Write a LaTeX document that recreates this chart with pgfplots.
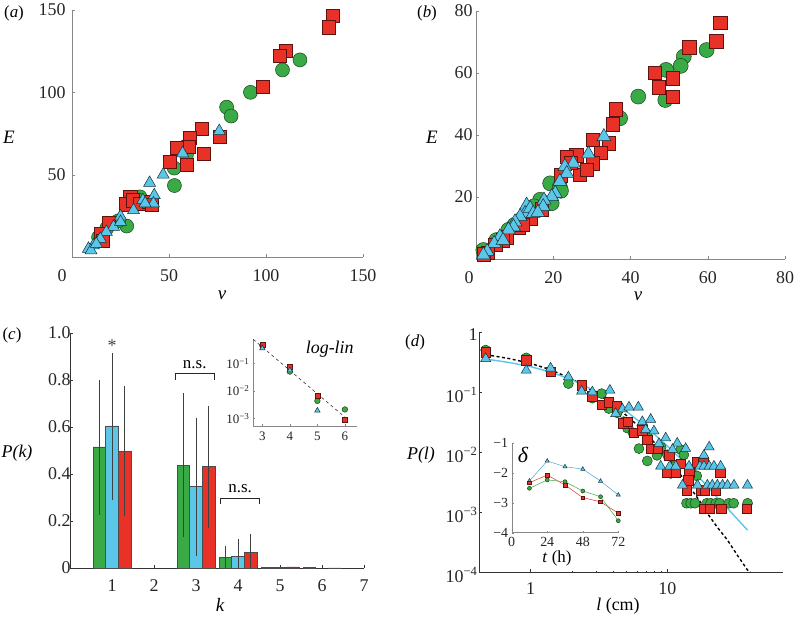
\documentclass[border=0pt]{standalone}
\usepackage{pgfplots}
\pgfplotsset{compat=1.18}
\usepackage{fontspec}
\setmainfont{Liberation Serif}
\definecolor{cg}{RGB}{57,170,70}
\definecolor{cr}{RGB}{232,50,40}
\definecolor{cb}{RGB}{90,198,232}
\definecolor{axg}{RGB}{135,135,135}
\newcommand\fs[1]{\fontsize{#1}{#1}\selectfont}
\pgfplotsset{
  base/.style={scale only axis, anchor=south west, axis x line*=bottom, axis y line*=left,
    tick align=inside, major tick length=3bp, minor tick length=1.5bp,
    every tick label/.append style={font=\rmfamily\fs{18}, text=black!85},
    /pgf/number format/assume math mode=true, clip=false},
  gm/.style={only marks, mark=*, mark size=#1, mark options={fill=cg, draw=cg!40!black, line width=0.5pt}},
  rm/.style={only marks, mark=square*, mark size=#1, mark options={fill=cr, draw=cr!40!black, line width=0.5pt}},
  bm/.style={only marks, mark=triangle*, mark size=#1, mark options={fill=cb, draw=cb!25!black, line width=0.5pt}},
}
\begin{document}
\begin{tikzpicture}
\useasboundingbox (0,0) rectangle (795bp,617bp);
% ---------------- (a)
\begin{axis}[base, at={(72bp,360bp)}, width=291bp, height=247bp,
  xmin=0,xmax=150,ymin=0,ymax=150, xtick={50,100,150}, ytick={50,100,150},
  extra x ticks={0}, extra x tick style={xticklabel style={xshift=-10bp}},
  axis line style={axg}, tick style={axg},
  xticklabel style={yshift=-9bp}, yticklabel style={xshift=-3bp}]
\addplot[gm=7bp] table {
117.5 119.7
108.5 113.6
92 100
79.7 91
82 85.6
52.7 54
52.8 43.4
58.3 67
59 62
28.2 18.8
17.9 17.4
35 36.5
13.7 12
21.4 20.7
24 22
34.2 34.6
};
\addplot[rm=6.6bp] table {
134.4 146.3
132.5 139.5
110.3 125.3
107.2 122.2
98.3 103.4
66.8 78.1
68 62.5
60.5 72.6
60 67
59 56
54 66.5
50.5 58
76.3 73
30 36.5
28 32
31.5 34.5
35 32.5
39.5 33.5
41 31.5
19 21
15 14
16 10
};
\addplot[bm=7bp] table {
75.9 76.5
57 63
47 50
40 45
42.4 37.5
42 32.5
36.5 34.5
31.7 28.4
25 24.7
21.4 18.3
17.7 15.2
14.6 11
11 7
8.5 5
9.8 4
25 21.3
37.7 32.5
12.5 8
};
\end{axis}
% ---------------- (b)
\begin{axis}[base, at={(476bp,358bp)}, width=309bp, height=248bp,
  xmin=0,xmax=80,ymin=0,ymax=80, xtick={20,40,60,80}, ytick={20,40,60,80},
  extra x ticks={0}, extra x tick style={xticklabel style={xshift=-7bp}},
  axis line style={axg}, tick style={axg},
  xticklabel style={yshift=-9bp}, yticklabel style={xshift=0bp}]
\addplot[gm=7.5bp] table {
59.7 67.4
53.8 65.3
53 62.3
49.2 61
49 51.3
42 52.4
37.3 45.4
19.2 24.4
21.7 23.3
19.6 18
8.4 9.4
5.3 6.1
1.9 2.9
16.6 19.1
15 17
12 13
10 11
22 22
};
\addplot[rm=6.7bp] table {
63.2 76.2
62.2 70.3
55.2 68.3
46.2 60.1
47.3 55.4
51 58.3
51 52.4
36.2 48.3
35.4 43.5
34.3 37.3
30.2 38.4
32.3 34.3
30.2 30.9
26 33.5
26.9 27.1
28.6 28.7
23.5 33
24.5 31
22 27
17 16
14 13
11 10
8 7
7 6
5 4.5
3 2
2 1.5
12 11
};
\addplot[bm=8bp] table {
33.1 39.5
29.1 33.9
25.2 30.9
23 29.8
23.5 27.6
21.7 25
20.5 21.2
19.6 20.1
17.6 19
17.4 16.9
13.1 17.4
12.7 14.7
11.4 13.7
10.1 12
9.7 10.4
8.4 9.4
6.2 7.2
4.7 5
2.9 2.4
1.9 1.3
14 16.3
14.8 14.7
16 15
7 6
};
\end{axis}
% ---------------- (c)
\begin{axis}[base, at={(70bp,49bp)}, width=294bp, height=235bp,
  xmin=0,xmax=7,ymin=0,ymax=1, xtick={1,2,3,4,5,6,7},
  ytick={0,0.2,0.4,0.6,0.8,1}, yticklabels={0,0.2,0.4,0.6,0.8,1.0},
  axis line style={black!80}, tick style={black!80},
  xticklabel style={yshift=-8bp}, yticklabel style={xshift=4bp}]
\addplot[ybar, bar width=0.3, bar shift=0pt, fill=cg, draw=black!70, line width=0.5pt,
  error bars/.cd, y dir=both, y explicit, error mark=none,
  error bar style={line width=0.7pt, black!75}]
  table[x=x, y=y, y error plus=ep, y error minus=em] {
x y ep em
0.7 0.515 0.285 0.29
2.7 0.437 0.308 0.307
3.7 0.045 0.047 0.045
4.7 0.003 0 0
5.7 0.002 0 0
};
\addplot[ybar, bar width=0.3, bar shift=0pt, fill=cb, draw=black!70, line width=0.5pt,
  error bars/.cd, y dir=both, y explicit, error mark=none,
  error bar style={line width=0.7pt, black!75}]
  table[x=x, y=y, y error plus=ep, y error minus=em] {
x y ep em
1.0 0.605 0.31 0.315
3.0 0.347 0.293 0.297
4.0 0.05 0.073 0.05
5.0 0.0017 0 0
};
\addplot[ybar, bar width=0.3, bar shift=0pt, fill=cr, draw=black!70, line width=0.5pt,
  error bars/.cd, y dir=both, y explicit, error mark=none,
  error bar style={line width=0.7pt, black!75}]
  table[x=x, y=y, y error plus=ep, y error minus=em] {
x y ep em
1.3 0.497 0.278 0.277
3.3 0.432 0.258 0.262
4.3 0.068 0.077 0.068
5.3 0.005 0 0
6.3 0.001 0 0
};
\draw[line width=0.9pt, black!85] (axis cs:2.5,0.80) -- (axis cs:2.5,0.826) -- (axis cs:3.43,0.826) -- (axis cs:3.43,0.80);
\draw[line width=0.9pt, black!85] (axis cs:3.59,0.272) -- (axis cs:3.59,0.297) -- (axis cs:4.52,0.297) -- (axis cs:4.52,0.272);
\node[font=\fs{17}] at (axis cs:2.97,0.866) {n.s.};
\node[font=\fs{17}] at (axis cs:4.05,0.337) {n.s.};
\node[font=\fs{18}, text=black!75] at (axis cs:1.0,0.945) {*};
\end{axis}
% ---------------- (c) inset
\begin{axis}[base, at={(253bp,191bp)}, width=104bp, height=87bp, ymode=log,
  xmin=2.66,xmax=6.44, ymin=5.25e-4, ymax=0.766, xtick={3,4,5,6},
  ytick={1e-3,1e-2,1e-1}, yticklabels={10\textsuperscript{−3},10\textsuperscript{−2},10\textsuperscript{−1}},
  yminorticks=false, every tick label/.append style={font=\rmfamily\fs{13}},
  axis line style={axg}, tick style={axg}, major tick length=2bp,
  xticklabel style={yshift=-2bp}]
\addplot[black!80, dashed, line width=0.6pt] coordinates {(2.67,0.74) (6,0.0011)};
\addplot[gm=2.8bp] coordinates {(3,0.44) (4,0.05) (5,0.0043) (6,0.0021)};
\addplot[rm=2.5bp] coordinates {(3,0.47) (4,0.075) (5,0.0065) (6,0.00087)};
\addplot[bm=3.2bp] coordinates {(3,0.35) (4,0.056) (5,0.0019)};
\node[font=\fs{18}\itshape] at (axis cs:5.45,0.33) {log-lin};
\end{axis}
% ---------------- (d)
\begin{axis}[base, at={(479bp,45bp)}, width=304bp, height=240bp,
  xmode=log, ymode=log, xmin=0.42, xmax=70, ymin=1e-4, ymax=1,
  xtick={1,10}, xticklabels={1,10},
  ytick={1e-4,1e-3,1e-2,1e-1,1},
  yticklabels={10\textsuperscript{−4},10\textsuperscript{−3},10\textsuperscript{−2},10\textsuperscript{−1},1},
  axis line style={black!80}, tick style={black!80},
  xticklabel style={yshift=-7bp}, yticklabel style={xshift=2bp, yshift=-3bp}]
\addplot[black, line width=1.4pt, dash pattern=on 3pt off 2.5pt] table {
0.47 0.42
0.7 0.36
1.0 0.30
1.4 0.235
2.0 0.165
3.0 0.098
4.0 0.062
5.0 0.041
6.5 0.024
8.0 0.0145
10.0 0.0083
12.0 0.0047
14.4 0.0027
17.0 0.0016
19.6 0.00095
23.0 0.00057
27.5 0.00034
33 0.00018
38.5 0.000108
40.5 0.0001
};
\addplot[cb, line width=1.4pt] table {
0.47 0.355
0.7 0.31
1.0 0.265
1.4 0.215
2.0 0.16
3.0 0.103
4.0 0.07
5.0 0.048
7.0 0.026
10.0 0.0126
14.0 0.006
18.0 0.0033
21.9 0.002
28.0 0.0011
38.5 0.0005
};
\addplot[gm=5bp] table {
0.47 0.50
0.93 0.37
1.89 0.138
2.83 0.079
3.31 0.094
3.73 0.053
4.3 0.045
4.8 0.032
5.1 0.025
5.6 0.021
6.2 0.0114
7.13 0.0071
7.2 0.018
8.4 0.0088
9.0 0.012
10.0 0.009
10.6 0.0044
11.5 0.006
12.5 0.011
13.2 0.009
15.2 0.0044
16.4 0.0040
13.8 0.0014
14.8 0.0014
15.9 0.0014
19.4 0.0014
20.7 0.0014
22.6 0.0014
24.1 0.0014
28.1 0.0014
30.5 0.0014
38.6 0.0014
};
\addplot[rm=4.7bp] table {
0.47 0.46
0.93 0.34
1.4 0.22
2.36 0.129
2.83 0.085
3.31 0.062
3.73 0.067
4.26 0.058
4.77 0.030
5.15 0.032
5.7 0.021
6.56 0.023
7.13 0.016
7.55 0.0114
8.54 0.0114
10.3 0.0088
12.5 0.0064
10 0.0045
11.5 0.0045
14.4 0.0045
14.2 0.0034
16.4 0.0068
18.3 0.0066
24.3 0.0045
13.8 0.0023
17.5 0.0023
18.7 0.0023
22.6 0.0023
18.5 0.00114
20.5 0.00114
24.8 0.00114
38 0.00114
};
\addplot[bm=5.8bp] table {
0.47 0.36
0.93 0.23
1.4 0.25
1.89 0.178
2.36 0.103
2.83 0.10
3.8 0.107
4.19 0.0436
4.69 0.052
5.24 0.056
6.13 0.056
6.56 0.032
7.55 0.035
6.94 0.0236
7.98 0.0224
9.72 0.0171
11.8 0.014
13.6 0.0114
8.68 0.0138
10.9 0.011
8.93 0.0058
10.4 0.0058
11.5 0.0058
14.4 0.0058
17.3 0.0058
18.5 0.0058
20.2 0.0058
21.9 0.0058
24.5 0.0058
20.2 0.0121
18.5 0.0088
12.9 0.0028
16.6 0.0028
19.6 0.0028
21.3 0.0028
23.2 0.0028
25.3 0.0028
27.5 0.0028
30.7 0.0028
38.5 0.0028
};
\end{axis}
% ---------------- (d) inset
\begin{axis}[base, at={(511.7bp,84.3bp)}, width=106.6bp, height=90bp,
  xmin=0,xmax=72,ymin=-4,ymax=-1, xtick={0,24,48,72}, ytick={-4,-3,-2,-1},
  yticklabels={−4,−3,−2,−1}, every tick label/.append style={font=\rmfamily\fs{14}},
  axis line style={axg}, tick style={axg}, major tick length=2bp,
  xticklabel style={yshift=-1bp}]
\addplot[cb!85!black, line width=0.5pt, mark=triangle*, mark size=2.4bp, mark options={fill=cb, draw=cb!30!black}] coordinates {(12,-2.27) (24,-1.61) (36,-1.8) (48,-1.88) (60,-2.28) (72,-2.74)};
\addplot[cr, line width=0.5pt, mark=square*, mark size=1.8bp, mark options={fill=cr, draw=cr!40!black}] coordinates {(12,-2.33) (24,-2.08) (36,-2.41) (48,-2.83) (60,-2.97) (72,-3.35)};
\addplot[cg, line width=0.5pt, mark=*, mark size=2bp, mark options={fill=cg, draw=cg!40!black}] coordinates {(12,-2.52) (24,-2.24) (36,-2.3) (48,-2.61) (60,-2.8) (72,-3.6)};
\end{axis}
% ---------------- labels
\node[font=\fs{17}] at (14bp,604bp) {(\textit{a})};
\node[font=\fs{19}\itshape] at (9bp,480bp) {E};
\node[font=\fs{19}\itshape, inner sep=0pt] at (222bp,322bp) {v};
\node[font=\fs{17}] at (427bp,604bp) {(\textit{b})};
\node[font=\fs{19}\itshape] at (432bp,480bp) {E};
\node[font=\fs{19}\itshape, inner sep=0pt] at (638bp,321bp) {v};
\node[font=\fs{17}] at (12bp,282bp) {(\textit{c})};
\node[font=\fs{18}\itshape] at (17bp,164bp) {P(k)};
\node[font=\fs{19}\itshape, inner sep=0pt] at (220bp,12bp) {k};
\node[font=\fs{17}] at (415bp,275bp) {(\textit{d})};
\node[font=\fs{18}\itshape] at (421bp,162bp) {P(l)};
\node[font=\fs{18}, inner sep=0pt] at (618bp,11bp) {\textit{l} (cm)};
\node[font=\fs{22}\itshape] at (523bp,162bp) {δ};
\node[font=\fs{17}] at (557bp,59bp) {\textit{t} (h)};
\end{tikzpicture}
\end{document}
